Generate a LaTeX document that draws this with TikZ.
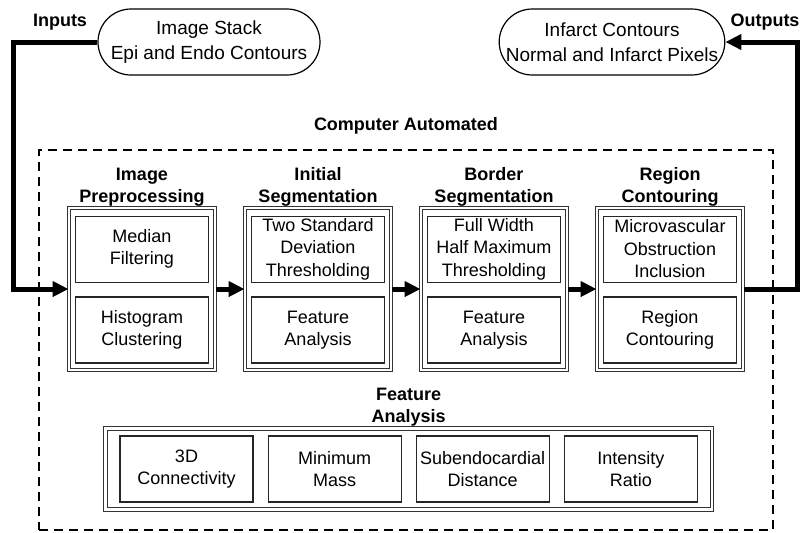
\documentclass[tikz,border=0pt]{standalone}
\usepackage{fontspec}
\setmainfont{Liberation Sans}
\usetikzlibrary{positioning, arrows.meta, fit}

\begin{document}
\begin{tikzpicture}[
  x=0.5pt, y=-0.5pt,
  font=\fontsize{9}{11.25}\selectfont,
  node distance=14.5pt,
  terminal/.style={rectangle, draw, rounded corners=16.5pt, minimum height=33pt, minimum width=111pt, align=center, line width=0.6pt, font=\fontsize{9.5}{12.5}\selectfont},
  group/.style={rectangle, draw=black!80, double, double distance=1.1pt, line width=0.5pt},
  stage/.style={group, minimum height=81pt, minimum width=73pt},
  sub/.style={rectangle, draw=black!85, line width=0.55pt, minimum height=33pt, minimum width=66.5pt, align=center, inner sep=1pt},
  heading/.style={font=\bfseries\fontsize{9}{11}\selectfont, align=center, inner sep=0pt},
  autobox/.style={rectangle, draw, dash pattern=on 4.5pt off 3pt, line width=1.2pt, minimum width=367pt, minimum height=190pt},
  bigarr/.style={-{Triangle[length=8pt, width=7.5pt]}, line width=2.5pt}
]
  \useasboundingbox (0,0) rectangle (800,532);

  % computer automated part
  \node[autobox] (auto) at (406,340) {};
  \node[heading, above=7pt of auto.north] (autolbl) {Computer Automated};

  \node[stage] (prep) at (142,289) {};
  \node[stage, right=of prep] (init) {};
  \node[stage, right=of init] (bord) {};
  \node[stage, right=of bord] (cont) {};

  \node[heading, above=0.5pt of prep.north] (prepl) {Image\\Preprocessing};
  \node[heading, above=0.5pt of init.north] (initl) {Initial\\Segmentation};
  \node[heading, above=0.5pt of bord.north] (bordl) {Border\\Segmentation};
  \node[heading, above=0.5pt of cont.north] (contl) {Region\\Contouring};

  \node[sub, below=4pt of prep.north] (prep1) {Median\\Filtering};
  \node[sub, above=3.5pt of prep.south] (prep2) {Histogram\\Clustering};
  \node[sub, below=4pt of init.north] (init1) {Two Standard\\Deviation\\Thresholding};
  \node[sub, above=3.5pt of init.south] (init2) {Feature\\Analysis};
  \node[sub, below=4pt of bord.north] (bord1) {Full Width\\Half Maximum\\Thresholding};
  \node[sub, above=3.5pt of bord.south] (bord2) {Feature\\Analysis};
  \node[sub, below=4pt of cont.north] (cont1) {Microvascular\\Obstruction\\Inclusion};
  \node[sub, above=3.5pt of cont.south] (cont2) {Region\\Contouring};

  % feature analysis
  \node[sub] (conn) at (186.5,469) {3D\\Connectivity};
  \node[sub, right=7pt of conn] (mass) {Minimum\\Mass};
  \node[sub, right=7pt of mass] (dist) {Subendocardial\\Distance};
  \node[sub, right=7pt of dist] (ratio) {Intensity\\Ratio};
  \node[group, fit=(conn)(ratio), inner xsep=7pt, inner ysep=3.5pt] (feat) {};
  \node[heading, above=0.5pt of feat.north] (featl) {Feature\\Analysis};

  % inputs and outputs
  \node[terminal] (inp) at (209,42) {Image Stack\\Epi and Endo Contours};
  \node[terminal] (outp) at (612,42) {Infarct Contours\\Normal and Infarct Pixels};
  \node[heading] (inlbl) at (60,22) {Inputs};
  \node[heading] (outlbl) at (765,22) {Outputs};

  \coordinate (inbend) at (13,289);
  \coordinate (outbend) at (797,289);

  \draw[bigarr] (inp.west) -| (inbend) -- (prep.west);
  \draw[bigarr] (prep) -- (init);
  \draw[bigarr] (init) -- (bord);
  \draw[bigarr] (bord) -- (cont);
  \draw[bigarr] (cont.east) -- (outbend) |- (outp.east);
\end{tikzpicture}
\end{document}
